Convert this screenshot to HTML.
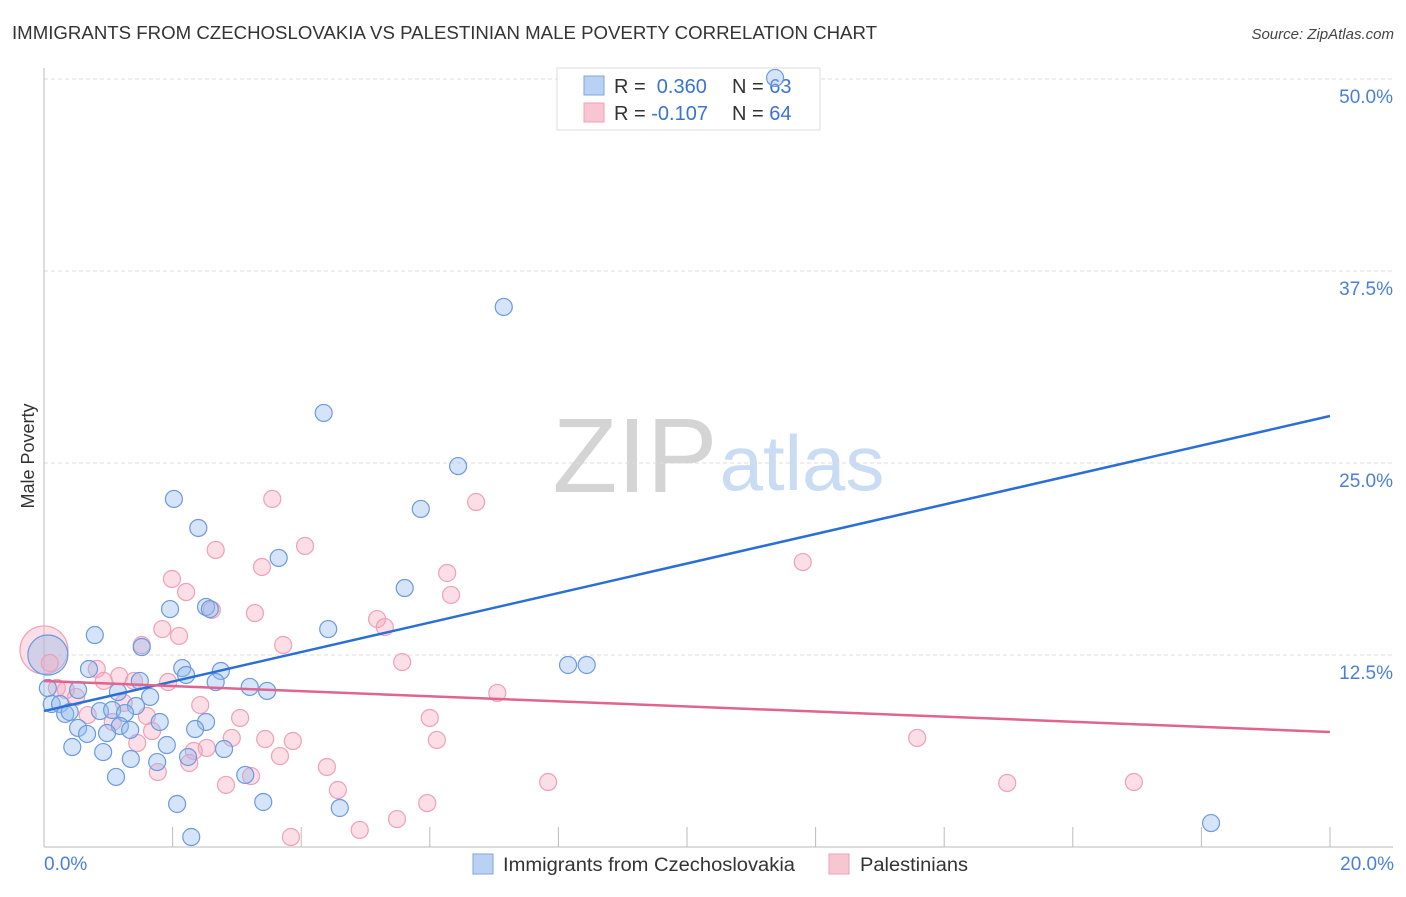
<!DOCTYPE html>
<html><head><meta charset="utf-8"><style>
body{margin:0;background:#fff;font-family:"Liberation Sans",sans-serif}
svg text{font-family:"Liberation Sans",sans-serif}
</style></head><body>
<svg id="chart" width="1406" height="892" viewBox="0 0 1406 892" xmlns="http://www.w3.org/2000/svg">
<text x="12" y="39" font-size="18" fill="#333" textLength="865" lengthAdjust="spacingAndGlyphs">IMMIGRANTS FROM CZECHOSLOVAKIA VS PALESTINIAN MALE POVERTY CORRELATION CHART</text>
<text x="1394" y="39" font-size="15" fill="#444" text-anchor="end" font-style="italic">Source: ZipAtlas.com</text>
<g>
<text x="635" y="492" font-size="106" fill="#d4d4d4" text-anchor="middle" font-family="Liberation Serif, serif">ZIP</text>
<text x="802" y="490" font-size="78" fill="#c9dcf4" text-anchor="middle">atlas</text>
</g>
<g id="grid"></g>
<g id="axes"></g>
<g id="pts"></g>
<g id="lines"></g>
<text transform="translate(34,456) rotate(-90)" font-size="18" fill="#333" text-anchor="middle">Male Poverty</text>
<text x="44" y="870" font-size="19" fill="#4a7fd6">0.0%</text>
<text x="1394" y="870" font-size="19" fill="#4a7fd6" text-anchor="end">20.0%</text>
<g>
<rect x="557" y="68" width="263" height="62" fill="#fff" stroke="#ddd"/>
<rect x="584" y="76" width="20" height="19" fill="#b9d1f3" stroke="#7ea6e0"/>
<rect x="584" y="103" width="20" height="19" fill="#f8c5d3" stroke="#eea0b7"/>
<text x="614" y="93" font-size="20" fill="#333">R = <tspan fill="#3b73d1">&#160;0.360</tspan><tspan x="732">N = </tspan><tspan fill="#3b73d1">63</tspan></text>
<text x="614" y="120" font-size="20" fill="#333">R = <tspan fill="#3b73d1">-0.107</tspan><tspan x="732">N = </tspan><tspan fill="#3b73d1">64</tspan></text>
</g>
<g>
<rect x="473" y="854" width="20" height="20" fill="#b9d1f3" stroke="#7ea6e0"/>
<text x="503" y="871" font-size="19" fill="#333" textLength="292" lengthAdjust="spacingAndGlyphs">Immigrants from Czechoslovakia</text>
<rect x="829" y="854" width="20" height="20" fill="#f8c5d3" stroke="#eea0b7"/>
<text x="860" y="871" font-size="19" fill="#333" textLength="108" lengthAdjust="spacingAndGlyphs">Palestinians</text>
</g>
<g id="over"></g>
</svg>
<script>
const yTicks=[12.5,25,37.5,50];
const yTickLabels=["12.5%","25.0%","37.5%","50.0%"];
const xTicks=[2,4,6,8,10,12,14,16,18,20];
const blueX=[7.15,4.35,6.44,2.02,5.86,2.40,3.65,5.61,1.96,2.52,2.58,0.79,4.42,1.52,8.15,8.44,0.70,2.15,2.75,2.21,1.49,2.67,3.20,3.47,0.06,0.53,1.15,1.65,0.12,0.25,1.43,0.87,1.06,1.26,0.33,0.40,1.80,2.52,0.53,2.35,1.18,0.98,0.67,1.34,0.44,1.91,2.80,0.92,2.24,1.35,1.76,3.13,1.12,2.07,3.41,4.60,2.29,18.15,11.37];
const blueY=[35.16,28.26,24.80,22.66,22.01,20.77,18.82,16.86,15.49,15.63,15.49,13.80,14.19,13.02,11.85,11.85,11.59,11.65,11.46,11.20,10.81,10.74,10.42,10.16,10.35,10.22,10.09,9.77,9.31,9.31,9.18,8.85,8.92,8.72,8.66,8.79,8.14,8.14,7.75,7.68,7.88,7.42,7.36,7.62,6.51,6.64,6.38,6.18,5.86,5.73,5.53,4.69,4.56,2.80,2.93,2.54,0.65,1.56,50.07];
const pinkX=[3.55,6.72,2.67,4.06,3.39,11.80,1.99,6.27,2.21,6.33,2.61,3.28,5.18,5.30,1.84,2.10,1.52,3.72,5.57,0.09,0.82,1.17,0.20,7.05,0.93,0.34,1.40,1.93,0.50,1.24,2.43,0.68,1.60,3.05,6.00,1.07,1.68,2.92,3.44,3.87,6.11,13.58,1.45,2.53,2.33,3.67,2.26,4.40,1.77,3.22,2.83,7.84,14.98,16.95,4.57,5.96,5.49,4.91,3.84];
const pinkY=[22.66,22.46,19.34,19.60,18.23,18.55,17.45,17.84,16.60,16.41,15.43,15.23,14.84,14.32,14.19,13.74,13.15,13.15,12.04,11.98,11.59,11.13,10.35,10.03,10.81,10.22,10.81,10.74,9.77,9.38,9.24,8.59,8.53,8.40,8.40,8.14,7.55,7.10,7.03,6.90,6.97,7.10,6.77,6.45,6.25,5.92,5.47,5.21,4.88,4.62,4.04,4.23,4.17,4.23,3.71,2.86,1.82,1.11,0.65];
const bigBlue=[0.06,12.5];
const bigPink=[0.0,12.83];
const blueTrend=[8.85,28.06];
const pinkTrend=[10.81,7.49];
const NS="http://www.w3.org/2000/svg";
const sx=v=>44+v*64.3, sy=v=>847-v*15.36;
function mk(tag,attrs,parent){const e=document.createElementNS(NS,tag);for(const k in attrs)e.setAttribute(k,attrs[k]);document.getElementById(parent).appendChild(e);return e;}
yTicks.forEach((t,i)=>{
 const l=mk('line',{x1:44,x2:1393,y1:sy(t),y2:sy(t),stroke:'#ddd','stroke-dasharray':'4,3'},'grid');
 
 
 const tx=mk('text',{x:1393,y:sy(t)+24,'font-size':19,fill:'#4a7fd6','text-anchor':'end'},'grid');
 tx.textContent=yTickLabels[i];
 
 
});
const ya=mk('line',{x1:44,x2:44,y1:68,y2:847,stroke:'#bbb'},'axes');


const xa=mk('line',{x1:44,x2:1393,y1:847,y2:847,stroke:'#bbb'},'axes');


xTicks.forEach(t=>{
 const l=mk('line',{x1:sx(t),x2:sx(t),y1:827,y2:847,stroke:'#bbb'},'axes');
 
 
});
function dot(x,y,r,c,parent){
 const f=c==='b'?'rgba(150,188,238,0.4)':'rgba(244,168,190,0.38)';
 const s=c==='b'?'#6b9ae0':'#f0a0b8';
 const e=mk('circle',{cx:sx(x),cy:sy(y),r:r,fill:f,stroke:s,'stroke-width':1.2},parent||'pts');
 
 
}
dot(bigPink[0],bigPink[1],24,'p');
dot(bigBlue[0],bigBlue[1],20,'b');
pinkX.forEach((x,i)=>dot(x,pinkY[i],8.5,'p'));
blueX.forEach((x,i)=>dot(x,blueY[i],8.5,'b',blueY[i]>45?'over':'pts'));
const bl=mk('line',{x1:sx(0),y1:sy(blueTrend[0]),x2:sx(20),y2:sy(blueTrend[1]),stroke:'#2a6fd6','stroke-width':2.5},'lines');


const pl=mk('line',{x1:sx(0),y1:sy(pinkTrend[0]),x2:sx(20),y2:sy(pinkTrend[1]),stroke:'#e0648f','stroke-width':2.5},'lines');


</script>
</body></html>
